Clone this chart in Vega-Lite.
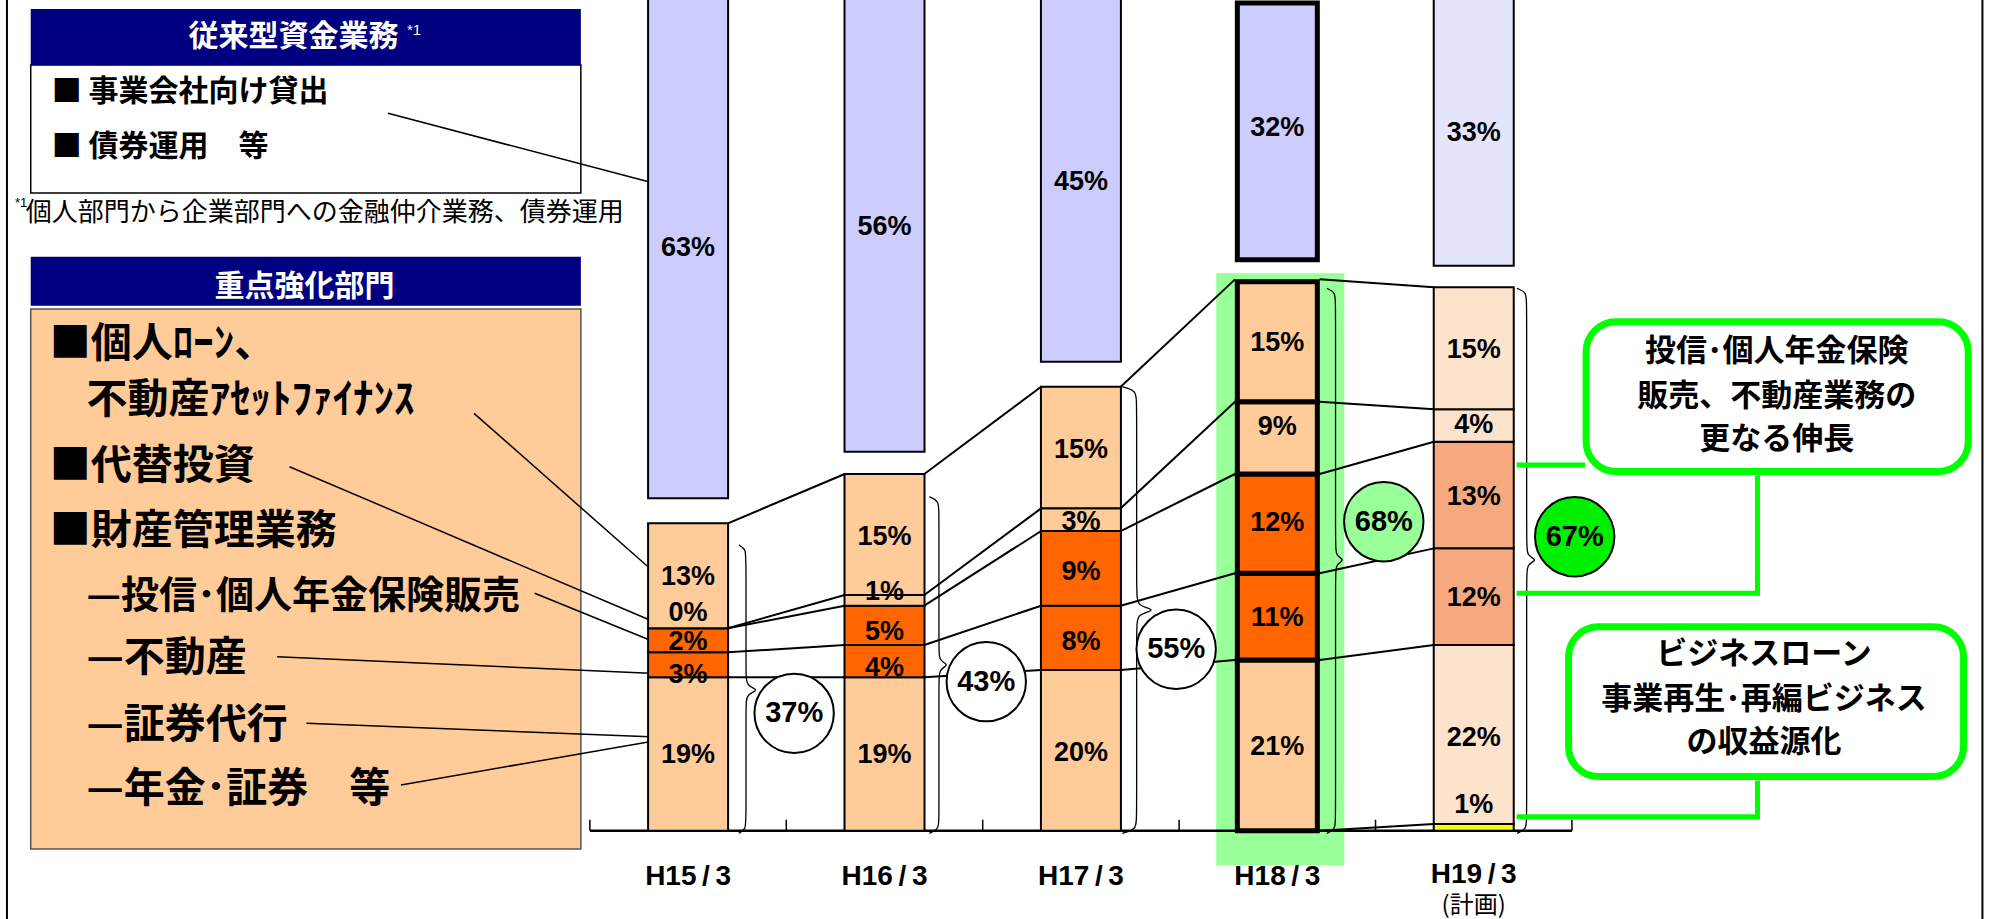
{
  "$schema": "https://vega.github.io/schema/vega-lite/v6.json",
  "width": 1989,
  "height": 919,
  "autosize": {"type": "none"},
  "padding": 0,
  "background": "#ffffff",
  "config": {"view": {"stroke": null}},
  "datasets": {
    "highlight": [{"x": 3.689, "x2": 4.341, "y": -4.23, "y2": 68.81}],
    "frame": [
      {"x": -2.468, "x2": -2.468, "y": -10.9, "y2": 102.56},
      {"x": 7.59, "x2": 7.59, "y": -10.9, "y2": 102.56}
    ],
    "boxes": [
      {"role": "body", "x": -2.347, "x2": 0.454, "y": 78.73, "y2": 94.53},
      {"role": "panel", "x": -2.347, "x2": 0.454, "y": -2.27, "y2": 64.41},
      {"role": "header", "x": -2.347, "x2": 0.454, "y": 94.53, "y2": 101.44},
      {"role": "header", "x": -2.347, "x2": 0.454, "y": 64.81, "y2": 70.86}
    ],
    "notes": [
      {"role": "header", "x": -1.009, "y": 98.0, "text": "従来型資金業務"},
      {"role": "header", "x": -0.953, "y": 67.12, "text": "重点強化部門"},
      {"role": "headersup", "x": -0.4316, "y": 98.9, "text": "*1"},
      {"role": "list", "x": -2.24, "y": 91.19, "text": "■ 事業会社向け貸出"},
      {"role": "list", "x": -2.24, "y": 84.4, "text": "■ 債券運用　等"},
      {"role": "footsup", "x": -2.4275, "y": 77.5, "text": "*1"},
      {"role": "foot", "x": -2.3718, "y": 76.26, "text": "個人部門から企業部門への金融仲介業務、債券運用"},
      {"role": "item", "x": -2.2503, "y": 59.96, "text": "■個人ﾛｰﾝ、"},
      {"role": "item", "x": -2.0628, "y": 53.05, "text": "不動産ｱｾｯﾄﾌｧｲﾅﾝｽ"},
      {"role": "item", "x": -2.2503, "y": 44.9, "text": "■代替投資"},
      {"role": "item", "x": -2.2503, "y": 36.88, "text": "■財産管理業務"},
      {"role": "subnarrow", "x": -2.0628, "y": 28.85, "text": "—投信･個人年金保険販売"},
      {"role": "sub", "x": -2.0628, "y": 21.2, "text": "—不動産"},
      {"role": "sub", "x": -2.0628, "y": 12.93, "text": "—証券代行"},
      {"role": "sub", "x": -2.0628, "y": 5.02, "text": "—年金･証券　等"},
      {"role": "callout", "x": 6.543, "y": 59.14, "text": "投信･個人年金保険"},
      {"role": "callout", "x": 6.543, "y": 53.58, "text": "販売、不動産業務の"},
      {"role": "callout", "x": 6.543, "y": 48.23, "text": "更なる伸長"},
      {"role": "callout", "x": 6.478, "y": 21.69, "text": "ビジネスローン"},
      {"role": "callout", "x": 6.478, "y": 16.14, "text": "事業再生･再編ビジネス"},
      {"role": "callout", "x": 6.478, "y": 10.79, "text": "の収益源化"},
      {"role": "plannote", "x": 5, "y": -9.3, "text": "(計画)"}
    ],
    "xlabels": [
      {"x": 1, "y": -5.68, "text": "H15\u2009/\u20093"},
      {"x": 2, "y": -5.68, "text": "H16\u2009/\u20093"},
      {"x": 3, "y": -5.68, "text": "H17\u2009/\u20093"},
      {"x": 4, "y": -5.68, "text": "H18\u2009/\u20093"},
      {"x": 5, "y": -5.45, "text": "H19\u2009/\u20093"}
    ],
    "segs": [
      {"year": "H15/3", "x": 1, "kind": "focus", "y": 0, "y2": 18.94, "label": "19%", "ly": 9.35},
      {"year": "H15/3", "x": 1, "kind": "focus_dark", "y": 18.94, "y2": 22.02, "label": "3%", "ly": 19.22},
      {"year": "H15/3", "x": 1, "kind": "focus_dark", "y": 22.02, "y2": 24.99, "label": "2%", "ly": 23.33},
      {"year": "H15/3", "x": 1, "kind": "focus", "y": 24.99, "y2": 24.99, "label": "0%", "ly": 26.84},
      {"year": "H15/3", "x": 1, "kind": "focus", "y": 24.99, "y2": 37.95, "label": "13%", "ly": 31.36},
      {"year": "H15/3", "x": 1, "kind": "legacy", "y": 41.04, "y2": 104.04, "label": "63%", "ly": 71.9},
      {"year": "H16/3", "x": 2, "kind": "focus", "y": 0, "y2": 18.94, "label": "19%", "ly": 9.35},
      {"year": "H16/3", "x": 2, "kind": "focus_dark", "y": 18.94, "y2": 22.93, "label": "4%", "ly": 20.05},
      {"year": "H16/3", "x": 2, "kind": "focus_dark", "y": 22.93, "y2": 27.78, "label": "5%", "ly": 24.57},
      {"year": "H16/3", "x": 2, "kind": "focus", "y": 27.78, "y2": 29.1, "label": "1%", "ly": 29.51},
      {"year": "H16/3", "x": 2, "kind": "focus", "y": 29.1, "y2": 44.04, "label": "15%", "ly": 36.3},
      {"year": "H16/3", "x": 2, "kind": "legacy", "y": 46.79, "y2": 104.79, "label": "56%", "ly": 74.57},
      {"year": "H17/3", "x": 3, "kind": "focus", "y": 0, "y2": 19.84, "label": "20%", "ly": 9.56},
      {"year": "H17/3", "x": 3, "kind": "focus_dark", "y": 19.84, "y2": 27.78, "label": "8%", "ly": 23.33},
      {"year": "H17/3", "x": 3, "kind": "focus_dark", "y": 27.78, "y2": 37.0, "label": "9%", "ly": 31.98},
      {"year": "H17/3", "x": 3, "kind": "focus", "y": 37.0, "y2": 39.8, "label": "3%", "ly": 38.15},
      {"year": "H17/3", "x": 3, "kind": "focus", "y": 39.8, "y2": 54.81, "label": "15%", "ly": 47.0},
      {"year": "H17/3", "x": 3, "kind": "legacy", "y": 57.9, "y2": 104.9, "label": "45%", "ly": 80.12},
      {"year": "H18/3", "x": 4, "kind": "focus", "y": 0, "y2": 21.07, "label": "21%", "ly": 10.37},
      {"year": "H18/3", "x": 4, "kind": "focus_dark", "y": 21.07, "y2": 31.78, "label": "11%", "ly": 26.22},
      {"year": "H18/3", "x": 4, "kind": "focus_dark", "y": 31.78, "y2": 44.04, "label": "12%", "ly": 37.95},
      {"year": "H18/3", "x": 4, "kind": "focus", "y": 44.04, "y2": 52.96, "label": "9%", "ly": 49.88},
      {"year": "H18/3", "x": 4, "kind": "focus", "y": 52.96, "y2": 67.77, "label": "15%", "ly": 60.17},
      {"year": "H18/3", "x": 4, "kind": "legacy", "y": 70.48, "y2": 102.2, "label": "32%", "ly": 86.72},
      {"year": "H19/3", "x": 5, "kind": "plan_new", "y": 0, "y2": 0.83, "label": "1%", "ly": 3.17},
      {"year": "H19/3", "x": 5, "kind": "plan_focus", "y": 0.83, "y2": 22.93, "label": "22%", "ly": 11.41},
      {"year": "H19/3", "x": 5, "kind": "plan_focus_dark", "y": 22.93, "y2": 34.86, "label": "12%", "ly": 28.69},
      {"year": "H19/3", "x": 5, "kind": "plan_focus_dark", "y": 34.86, "y2": 48.02, "label": "13%", "ly": 41.23},
      {"year": "H19/3", "x": 5, "kind": "plan_focus", "y": 48.02, "y2": 52.02, "label": "4%", "ly": 50.09},
      {"year": "H19/3", "x": 5, "kind": "plan_focus", "y": 52.02, "y2": 67.09, "label": "15%", "ly": 59.35},
      {"year": "H19/3", "x": 5, "kind": "plan_legacy", "y": 69.75, "y2": 104.75, "label": "33%", "ly": 86.1}
    ],
    "links": [
      {"x": 1.2026, "y": 37.95, "x2": 1.7974, "y2": 44.04},
      {"x": 1.2026, "y": 24.99, "x2": 1.7974, "y2": 29.1},
      {"x": 1.2026, "y": 24.99, "x2": 1.7974, "y2": 27.78},
      {"x": 1.2026, "y": 22.02, "x2": 1.7974, "y2": 22.93},
      {"x": 1.2026, "y": 18.94, "x2": 1.7974, "y2": 18.94},
      {"x": 2.2026, "y": 44.04, "x2": 2.7974, "y2": 54.81},
      {"x": 2.2026, "y": 29.1, "x2": 2.7974, "y2": 39.8},
      {"x": 2.2026, "y": 27.78, "x2": 2.7974, "y2": 37.0},
      {"x": 2.2026, "y": 22.93, "x2": 2.7974, "y2": 27.78},
      {"x": 2.2026, "y": 18.94, "x2": 2.7974, "y2": 19.84},
      {"x": 3.2026, "y": 54.81, "x2": 3.7847, "y2": 68.07},
      {"x": 3.2026, "y": 39.8, "x2": 3.7847, "y2": 52.96},
      {"x": 3.2026, "y": 37.0, "x2": 3.7847, "y2": 44.04},
      {"x": 3.2026, "y": 27.78, "x2": 3.7847, "y2": 31.78},
      {"x": 3.2026, "y": 19.84, "x2": 3.7847, "y2": 21.07},
      {"x": 4.2153, "y": 68.07, "x2": 4.7974, "y2": 67.09},
      {"x": 4.2153, "y": 52.96, "x2": 4.7974, "y2": 52.02},
      {"x": 4.2153, "y": 44.04, "x2": 4.7974, "y2": 48.02},
      {"x": 4.2153, "y": 31.78, "x2": 4.7974, "y2": 34.86},
      {"x": 4.2153, "y": 21.07, "x2": 4.7974, "y2": 22.93},
      {"x": 4.2153, "y": 0, "x2": 4.7974, "y2": 0.83}
    ],
    "leftlinks": [
      {"x": -0.5279, "y": 88.57, "x2": 0.7989, "y2": 80.12},
      {"x": -0.0902, "y": 51.53, "x2": 0.8045, "y2": 32.4},
      {"x": -1.0294, "y": 44.94, "x2": 0.8045, "y2": 26.01},
      {"x": 0.2188, "y": 29.31, "x2": 0.8045, "y2": 23.54},
      {"x": -1.0922, "y": 21.48, "x2": 0.8045, "y2": 19.43},
      {"x": -0.9433, "y": 13.26, "x2": 0.8045, "y2": 11.6},
      {"x": -0.462, "y": 5.64, "x2": 0.8045, "y2": 10.99}
    ],
    "braces": [
      {"b": 1, "i": 0, "x": 1.2579, "y": 35.27}, {"b": 1, "i": 1, "x": 1.2948, "y": 34.78}, {"b": 1, "i": 2, "x": 1.2948, "y": 33.29},
      {"b": 1, "i": 3, "x": 1.2948, "y": 19.35}, {"b": 1, "i": 4, "x": 1.2948, "y": 17.86}, {"b": 1, "i": 5, "x": 1.3686, "y": 17.37},
      {"b": 1, "i": 6, "x": 1.2948, "y": 16.88}, {"b": 1, "i": 7, "x": 1.2948, "y": 15.39}, {"b": 1, "i": 8, "x": 1.2948, "y": 1.66},
      {"b": 1, "i": 9, "x": 1.2948, "y": 0.17}, {"b": 1, "i": 10, "x": 1.2579, "y": -0.32},
      {"b": 2, "i": 0, "x": 2.228, "y": 41.23}, {"b": 2, "i": 1, "x": 2.2771, "y": 40.74}, {"b": 2, "i": 2, "x": 2.2771, "y": 39.25},
      {"b": 2, "i": 3, "x": 2.2771, "y": 22.44}, {"b": 2, "i": 4, "x": 2.2771, "y": 20.95}, {"b": 2, "i": 5, "x": 2.3326, "y": 20.46},
      {"b": 2, "i": 6, "x": 2.2771, "y": 19.97}, {"b": 2, "i": 7, "x": 2.2771, "y": 18.48}, {"b": 2, "i": 8, "x": 2.2771, "y": 1.66},
      {"b": 2, "i": 9, "x": 2.2771, "y": 0.17}, {"b": 2, "i": 10, "x": 2.228, "y": -0.32},
      {"b": 3, "i": 0, "x": 3.2107, "y": 54.81}, {"b": 3, "i": 1, "x": 3.2837, "y": 54.32}, {"b": 3, "i": 2, "x": 3.2837, "y": 52.83},
      {"b": 3, "i": 3, "x": 3.2837, "y": 29.23}, {"b": 3, "i": 4, "x": 3.2837, "y": 27.74}, {"b": 3, "i": 5, "x": 3.3947, "y": 27.25},
      {"b": 3, "i": 6, "x": 3.2837, "y": 26.76}, {"b": 3, "i": 7, "x": 3.2837, "y": 25.27}, {"b": 3, "i": 8, "x": 3.2837, "y": 1.66},
      {"b": 3, "i": 9, "x": 3.2837, "y": 0.17}, {"b": 3, "i": 10, "x": 3.2107, "y": -0.32},
      {"b": 4, "i": 0, "x": 4.2523, "y": 66.96}, {"b": 4, "i": 1, "x": 4.2964, "y": 66.47}, {"b": 4, "i": 2, "x": 4.2964, "y": 64.98},
      {"b": 4, "i": 3, "x": 4.2964, "y": 35.4}, {"b": 4, "i": 4, "x": 4.2964, "y": 33.91}, {"b": 4, "i": 5, "x": 4.3473, "y": 33.42},
      {"b": 4, "i": 6, "x": 4.2964, "y": 32.93}, {"b": 4, "i": 7, "x": 4.2964, "y": 31.44}, {"b": 4, "i": 8, "x": 4.2964, "y": 1.66},
      {"b": 4, "i": 9, "x": 4.2964, "y": 0.17}, {"b": 4, "i": 10, "x": 4.2523, "y": -0.32},
      {"b": 5, "i": 0, "x": 5.2204, "y": 66.96}, {"b": 5, "i": 1, "x": 5.2695, "y": 66.47}, {"b": 5, "i": 2, "x": 5.2695, "y": 64.98},
      {"b": 5, "i": 3, "x": 5.2695, "y": 35.4}, {"b": 5, "i": 4, "x": 5.2695, "y": 33.91}, {"b": 5, "i": 5, "x": 5.3295, "y": 33.42},
      {"b": 5, "i": 6, "x": 5.2695, "y": 32.93}, {"b": 5, "i": 7, "x": 5.2695, "y": 31.44}, {"b": 5, "i": 8, "x": 5.2695, "y": 1.66},
      {"b": 5, "i": 9, "x": 5.2695, "y": 0.17}, {"b": 5, "i": 10, "x": 5.2204, "y": -0.32}
    ],
    "circles": [
      {"x": 1.54, "y": 14.49, "label": "37%", "kind": "circle"},
      {"x": 2.518, "y": 18.4, "label": "43%", "kind": "circle"},
      {"x": 3.485, "y": 22.4, "label": "55%", "kind": "circle"},
      {"x": 4.542, "y": 38.15, "label": "68%", "kind": "circle_actual"},
      {"x": 5.514, "y": 36.3, "label": "67%", "kind": "circle_plan"}
    ],
    "baseline": [{"x": 0.5, "x2": 5.5, "y": 0, "y2": 0}],
    "ticks": [
      {"x": 0.5, "x2": 0.5, "y": 0, "y2": 1.36},
      {"x": 1.5, "x2": 1.5, "y": 0, "y2": 1.36},
      {"x": 2.5, "x2": 2.5, "y": 0, "y2": 1.36},
      {"x": 3.5, "x2": 3.5, "y": 0, "y2": 1.36},
      {"x": 4.5, "x2": 4.5, "y": 0, "y2": 1.36},
      {"x": 5.5, "x2": 5.5, "y": 0, "y2": 1.36}
    ],
    "glinks": [
      {"x": 5.2315, "y": 45.15, "x2": 5.5542, "y2": 45.15},
      {"x": 6.4448, "y": 43.54, "x2": 6.4448, "y2": 29.31},
      {"x": 6.4448, "y": 29.31, "x2": 5.2315, "y2": 29.31},
      {"x": 6.4448, "y": 5.89, "x2": 6.4448, "y2": 1.73},
      {"x": 6.4448, "y": 1.73, "x2": 5.2315, "y2": 1.73}
    ],
    "callouts": [
      {"x": 5.5722, "x2": 7.5178, "y": 44.35, "y2": 62.83},
      {"x": 5.4828, "x2": 7.4939, "y": 6.69, "y2": 25.17}
    ]
  },
  "layer": [
    {
      "data": {"name": "highlight"},
      "mark": {"type": "rect", "fill": "#99FF99"},
      "encoding": {
        "x": {"field": "x", "type": "quantitative", "scale": {"domain": [-2.478, 7.598], "nice": false, "zero": false}, "axis": null},
        "x2": {"field": "x2"},
        "y": {"field": "y", "type": "quantitative", "scale": {"domain": [-10.9, 102.56], "nice": false, "zero": false}, "axis": null},
        "y2": {"field": "y2"}
      }
    },
    {
      "data": {"name": "frame"},
      "mark": {"type": "rule", "stroke": "#000000", "strokeWidth": 2},
      "encoding": {
        "x": {"field": "x", "type": "quantitative", "scale": {"domain": [-2.478, 7.598], "nice": false, "zero": false}, "axis": null},
        "x2": {"field": "x2"},
        "y": {"field": "y", "type": "quantitative", "scale": {"domain": [-10.9, 102.56], "nice": false, "zero": false}, "axis": null},
        "y2": {"field": "y2"}
      }
    },
    {
      "data": {"name": "boxes"},
      "transform": [{"filter": "datum.role === 'body'"}],
      "mark": {"type": "rect", "fill": "#FFFFFF", "stroke": "#000000", "strokeWidth": 1.5},
      "encoding": {
        "x": {"field": "x", "type": "quantitative", "scale": {"domain": [-2.478, 7.598], "nice": false, "zero": false}, "axis": null},
        "x2": {"field": "x2"},
        "y": {"field": "y", "type": "quantitative", "scale": {"domain": [-10.9, 102.56], "nice": false, "zero": false}, "axis": null},
        "y2": {"field": "y2"}
      }
    },
    {
      "data": {"name": "boxes"},
      "transform": [{"filter": "datum.role === 'panel'"}],
      "mark": {"type": "rect", "fill": "#FFCC99", "stroke": "#555555", "strokeWidth": 1.5},
      "encoding": {
        "x": {"field": "x", "type": "quantitative", "scale": {"domain": [-2.478, 7.598], "nice": false, "zero": false}, "axis": null},
        "x2": {"field": "x2"},
        "y": {"field": "y", "type": "quantitative", "scale": {"domain": [-10.9, 102.56], "nice": false, "zero": false}, "axis": null},
        "y2": {"field": "y2"}
      }
    },
    {
      "data": {"name": "boxes"},
      "transform": [{"filter": "datum.role === 'header'"}],
      "mark": {"type": "rect", "fill": "#000080"},
      "encoding": {
        "x": {"field": "x", "type": "quantitative", "scale": {"domain": [-2.478, 7.598], "nice": false, "zero": false}, "axis": null},
        "x2": {"field": "x2"},
        "y": {"field": "y", "type": "quantitative", "scale": {"domain": [-10.9, 102.56], "nice": false, "zero": false}, "axis": null},
        "y2": {"field": "y2"}
      }
    },
    {
      "data": {"name": "leftlinks"},
      "mark": {"type": "rule", "stroke": "#000000", "strokeWidth": 1.5},
      "encoding": {
        "x": {"field": "x", "type": "quantitative", "scale": {"domain": [-2.478, 7.598], "nice": false, "zero": false}, "axis": null},
        "x2": {"field": "x2"},
        "y": {"field": "y", "type": "quantitative", "scale": {"domain": [-10.9, 102.56], "nice": false, "zero": false}, "axis": null},
        "y2": {"field": "y2"}
      }
    },
    {
      "data": {"name": "links"},
      "mark": {"type": "rule", "stroke": "#000000", "strokeWidth": 2},
      "encoding": {
        "x": {"field": "x", "type": "quantitative", "scale": {"domain": [-2.478, 7.598], "nice": false, "zero": false}, "axis": null},
        "x2": {"field": "x2"},
        "y": {"field": "y", "type": "quantitative", "scale": {"domain": [-10.9, 102.56], "nice": false, "zero": false}, "axis": null},
        "y2": {"field": "y2"}
      }
    },
    {
      "data": {"name": "baseline"},
      "mark": {"type": "rule", "stroke": "#000000", "strokeWidth": 2.5},
      "encoding": {
        "x": {"field": "x", "type": "quantitative", "scale": {"domain": [-2.478, 7.598], "nice": false, "zero": false}, "axis": null},
        "x2": {"field": "x2"},
        "y": {"field": "y", "type": "quantitative", "scale": {"domain": [-10.9, 102.56], "nice": false, "zero": false}, "axis": null},
        "y2": {"field": "y2"}
      }
    },
    {
      "data": {"name": "ticks"},
      "mark": {"type": "rule", "stroke": "#000000", "strokeWidth": 1.5},
      "encoding": {
        "x": {"field": "x", "type": "quantitative", "scale": {"domain": [-2.478, 7.598], "nice": false, "zero": false}, "axis": null},
        "x2": {"field": "x2"},
        "y": {"field": "y", "type": "quantitative", "scale": {"domain": [-10.9, 102.56], "nice": false, "zero": false}, "axis": null},
        "y2": {"field": "y2"}
      }
    },
    {
      "data": {"name": "segs"},
      "mark": {"type": "bar", "width": 80, "orient": "vertical", "stroke": "#000000", "clip": true},
      "encoding": {
        "x": {"field": "x", "type": "quantitative", "scale": {"domain": [-2.478, 7.598], "nice": false, "zero": false}, "axis": null},
        "y": {"field": "y", "type": "quantitative", "scale": {"domain": [-10.9, 102.56], "nice": false, "zero": false}, "axis": null},
        "y2": {"field": "y2"},
        "color": {
          "field": "kind", "type": "nominal", "legend": null,
          "scale": {
            "domain": ["legacy", "focus", "focus_dark", "plan_legacy", "plan_focus", "plan_focus_dark", "plan_new", "circle", "circle_actual", "circle_plan"],
            "range": ["#CCCCFF", "#FFCC99", "#FF6600", "#E4E4FB", "#FDE2CC", "#F6A87E", "#FFFF00", "#FFFFFF", "#99FF99", "#00F000"]
          }
        },
        "strokeWidth": {"condition": {"test": "datum.year === 'H18/3'", "value": 5}, "value": 2}
      }
    },
    {
      "data": {"name": "braces"},
      "mark": {"type": "line", "interpolate": "basis", "stroke": "#000000", "strokeWidth": 1.3},
      "encoding": {
        "x": {"field": "x", "type": "quantitative", "scale": {"domain": [-2.478, 7.598], "nice": false, "zero": false}, "axis": null},
        "y": {"field": "y", "type": "quantitative", "scale": {"domain": [-10.9, 102.56], "nice": false, "zero": false}, "axis": null},
        "detail": {"field": "b", "type": "nominal"},
        "order": {"field": "i", "type": "quantitative"}
      }
    },
    {
      "data": {"name": "circles"},
      "mark": {"type": "point", "shape": "circle", "filled": true, "size": 6300, "opacity": 1, "stroke": "#000000", "strokeWidth": 2},
      "encoding": {
        "x": {"field": "x", "type": "quantitative", "scale": {"domain": [-2.478, 7.598], "nice": false, "zero": false}, "axis": null},
        "y": {"field": "y", "type": "quantitative", "scale": {"domain": [-10.9, 102.56], "nice": false, "zero": false}, "axis": null},
        "color": {
          "field": "kind", "type": "nominal", "legend": null,
          "scale": {
            "domain": ["legacy", "focus", "focus_dark", "plan_legacy", "plan_focus", "plan_focus_dark", "plan_new", "circle", "circle_actual", "circle_plan"],
            "range": ["#CCCCFF", "#FFCC99", "#FF6600", "#E4E4FB", "#FDE2CC", "#F6A87E", "#FFFF00", "#FFFFFF", "#99FF99", "#00F000"]
          }
        }
      }
    },
    {
      "data": {"name": "circles"},
      "mark": {"type": "text", "font": "Liberation Sans, sans-serif", "fontWeight": "bold", "fontSize": 29, "align": "center", "baseline": "middle", "color": "#000000"},
      "encoding": {
        "x": {"field": "x", "type": "quantitative", "scale": {"domain": [-2.478, 7.598], "nice": false, "zero": false}, "axis": null},
        "y": {"field": "y", "type": "quantitative", "scale": {"domain": [-10.9, 102.56], "nice": false, "zero": false}, "axis": null},
        "text": {"field": "label"}
      }
    },
    {
      "data": {"name": "segs"},
      "mark": {"type": "text", "font": "Liberation Sans, sans-serif", "fontWeight": "bold", "fontSize": 27, "align": "center", "baseline": "middle", "color": "#000000"},
      "encoding": {
        "x": {"field": "x", "type": "quantitative", "scale": {"domain": [-2.478, 7.598], "nice": false, "zero": false}, "axis": null},
        "y": {"field": "ly", "type": "quantitative", "scale": {"domain": [-10.9, 102.56], "nice": false, "zero": false}, "axis": null},
        "text": {"field": "label"}
      }
    },
    {
      "data": {"name": "xlabels"},
      "mark": {"type": "text", "font": "Liberation Sans, sans-serif", "fontWeight": "bold", "fontSize": 28, "align": "center", "baseline": "middle", "color": "#000000"},
      "encoding": {
        "x": {"field": "x", "type": "quantitative", "scale": {"domain": [-2.478, 7.598], "nice": false, "zero": false}, "axis": null},
        "y": {"field": "y", "type": "quantitative", "scale": {"domain": [-10.9, 102.56], "nice": false, "zero": false}, "axis": null},
        "text": {"field": "text"}
      }
    },
    {
      "data": {"name": "notes"},
      "transform": [{"filter": "datum.role === 'header'"}],
      "mark": {"type": "text", "font": "Noto Sans CJK JP", "fontWeight": "bold", "fontSize": 30, "align": "center", "baseline": "middle", "color": "#FFFFFF"},
      "encoding": {
        "x": {"field": "x", "type": "quantitative", "scale": {"domain": [-2.478, 7.598], "nice": false, "zero": false}, "axis": null},
        "y": {"field": "y", "type": "quantitative", "scale": {"domain": [-10.9, 102.56], "nice": false, "zero": false}, "axis": null},
        "text": {"field": "text"}
      }
    },
    {
      "data": {"name": "notes"},
      "transform": [{"filter": "datum.role === 'headersup'"}],
      "mark": {"type": "text", "font": "Liberation Sans, sans-serif", "fontSize": 15, "align": "left", "baseline": "middle", "color": "#FFFFFF"},
      "encoding": {
        "x": {"field": "x", "type": "quantitative", "scale": {"domain": [-2.478, 7.598], "nice": false, "zero": false}, "axis": null},
        "y": {"field": "y", "type": "quantitative", "scale": {"domain": [-10.9, 102.56], "nice": false, "zero": false}, "axis": null},
        "text": {"field": "text"}
      }
    },
    {
      "data": {"name": "notes"},
      "transform": [{"filter": "datum.role === 'list'"}],
      "mark": {"type": "text", "font": "Noto Sans CJK JP", "fontWeight": "bold", "fontSize": 30, "align": "left", "baseline": "middle", "color": "#000000"},
      "encoding": {
        "x": {"field": "x", "type": "quantitative", "scale": {"domain": [-2.478, 7.598], "nice": false, "zero": false}, "axis": null},
        "y": {"field": "y", "type": "quantitative", "scale": {"domain": [-10.9, 102.56], "nice": false, "zero": false}, "axis": null},
        "text": {"field": "text"}
      }
    },
    {
      "data": {"name": "notes"},
      "transform": [{"filter": "datum.role === 'footsup'"}],
      "mark": {"type": "text", "font": "Liberation Sans, sans-serif", "fontSize": 13, "align": "left", "baseline": "middle", "color": "#000000"},
      "encoding": {
        "x": {"field": "x", "type": "quantitative", "scale": {"domain": [-2.478, 7.598], "nice": false, "zero": false}, "axis": null},
        "y": {"field": "y", "type": "quantitative", "scale": {"domain": [-10.9, 102.56], "nice": false, "zero": false}, "axis": null},
        "text": {"field": "text"}
      }
    },
    {
      "data": {"name": "notes"},
      "transform": [{"filter": "datum.role === 'foot'"}],
      "mark": {"type": "text", "font": "Noto Sans CJK JP", "fontSize": 26, "align": "left", "baseline": "middle", "color": "#000000"},
      "encoding": {
        "x": {"field": "x", "type": "quantitative", "scale": {"domain": [-2.478, 7.598], "nice": false, "zero": false}, "axis": null},
        "y": {"field": "y", "type": "quantitative", "scale": {"domain": [-10.9, 102.56], "nice": false, "zero": false}, "axis": null},
        "text": {"field": "text"}
      }
    },
    {
      "data": {"name": "notes"},
      "transform": [{"filter": "datum.role === 'item' || datum.role === 'sub'"}],
      "mark": {"type": "text", "font": "Noto Sans CJK JP", "fontWeight": "bold", "fontSize": 41, "align": "left", "baseline": "middle", "color": "#000000"},
      "encoding": {
        "x": {"field": "x", "type": "quantitative", "scale": {"domain": [-2.478, 7.598], "nice": false, "zero": false}, "axis": null},
        "y": {"field": "y", "type": "quantitative", "scale": {"domain": [-10.9, 102.56], "nice": false, "zero": false}, "axis": null},
        "text": {"field": "text"}
      }
    },
    {
      "data": {"name": "notes"},
      "transform": [{"filter": "datum.role === 'subnarrow'"}],
      "mark": {"type": "text", "font": "Noto Sans CJK JP", "fontWeight": "bold", "fontSize": 38, "align": "left", "baseline": "middle", "color": "#000000"},
      "encoding": {
        "x": {"field": "x", "type": "quantitative", "scale": {"domain": [-2.478, 7.598], "nice": false, "zero": false}, "axis": null},
        "y": {"field": "y", "type": "quantitative", "scale": {"domain": [-10.9, 102.56], "nice": false, "zero": false}, "axis": null},
        "text": {"field": "text"}
      }
    },
    {
      "data": {"name": "notes"},
      "transform": [{"filter": "datum.role === 'plannote'"}],
      "mark": {"type": "text", "font": "Noto Sans CJK JP", "fontSize": 24, "align": "center", "baseline": "middle", "color": "#000000"},
      "encoding": {
        "x": {"field": "x", "type": "quantitative", "scale": {"domain": [-2.478, 7.598], "nice": false, "zero": false}, "axis": null},
        "y": {"field": "y", "type": "quantitative", "scale": {"domain": [-10.9, 102.56], "nice": false, "zero": false}, "axis": null},
        "text": {"field": "text"}
      }
    },
    {
      "data": {"name": "glinks"},
      "mark": {"type": "rule", "stroke": "#00FF00", "strokeWidth": 5, "strokeCap": "square"},
      "encoding": {
        "x": {"field": "x", "type": "quantitative", "scale": {"domain": [-2.478, 7.598], "nice": false, "zero": false}, "axis": null},
        "x2": {"field": "x2"},
        "y": {"field": "y", "type": "quantitative", "scale": {"domain": [-10.9, 102.56], "nice": false, "zero": false}, "axis": null},
        "y2": {"field": "y2"}
      }
    },
    {
      "data": {"name": "callouts"},
      "mark": {"type": "rect", "fill": "#FFFFFF", "stroke": "#00FF00", "strokeWidth": 7, "cornerRadius": 30},
      "encoding": {
        "x": {"field": "x", "type": "quantitative", "scale": {"domain": [-2.478, 7.598], "nice": false, "zero": false}, "axis": null},
        "x2": {"field": "x2"},
        "y": {"field": "y", "type": "quantitative", "scale": {"domain": [-10.9, 102.56], "nice": false, "zero": false}, "axis": null},
        "y2": {"field": "y2"}
      }
    },
    {
      "data": {"name": "notes"},
      "transform": [{"filter": "datum.role === 'callout'"}],
      "mark": {"type": "text", "font": "Noto Sans CJK JP", "fontWeight": "bold", "fontSize": 31, "align": "center", "baseline": "middle", "color": "#000000"},
      "encoding": {
        "x": {"field": "x", "type": "quantitative", "scale": {"domain": [-2.478, 7.598], "nice": false, "zero": false}, "axis": null},
        "y": {"field": "y", "type": "quantitative", "scale": {"domain": [-10.9, 102.56], "nice": false, "zero": false}, "axis": null},
        "text": {"field": "text"}
      }
    }
  ]
}
